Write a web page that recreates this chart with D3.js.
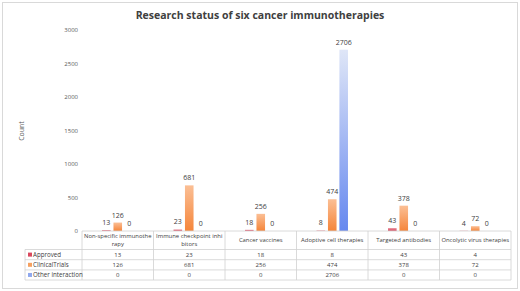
<!DOCTYPE html>
<html><head><meta charset="utf-8">
<script src="https://cdn.jsdelivr.net/npm/d3@7"></script>
<style>body{margin:0;background:#fff}svg{display:block;font-family:"Open Sans",sans-serif}</style>
</head><body><svg id="c" width="520" height="291"></svg>
<script>
const categories = ["Non-specific immunotherapy","Immune checkpoint inhibitors","Cancer vaccines","Adoptive cell therapies","Targeted antibodies","Oncolytic virus therapies"];
const headerLines = [["Non-specific immunothe","rapy"],["Immune checkpoint inhi","bitors"],["Cancer vaccines"],["Adoptive cell therapies"],["Targeted antibodies"],["Oncolytic virus therapies"]];
const seriesNames = ["Approved","ClinicalTrials","Other interaction"];
const approved = [13,23,18,8,43,4];
const clinicalTrials = [126,681,256,474,378,72];
const otherInteraction = [0,0,0,2706,0,0];
const yTicks = [0,500,1000,1500,2000,2500,3000];
const seriesValues = [approved, clinicalTrials, otherInteraction];

const svg = d3.select("#c");
const defs = svg.append("defs");
const grads = [["gA","#e88a98","#d9485e"],["gC","#fbbf95","#f5853a"],["gO","#dfe6f7","#6688ef"]];
grads.forEach(([id,t,b])=>{
  const g = defs.append("linearGradient").attr("id",id).attr("x1",0).attr("x2",0).attr("y1",0).attr("y2",1);
  g.append("stop").attr("offset","0%").attr("stop-color",t);
  g.append("stop").attr("offset","100%").attr("stop-color",b);
});
const legendColors = ["#d9485e","#f5a060","#8fa8ee"];

svg.append("rect").attr("x",2.5).attr("y",2.5).attr("width",515).attr("height",286).attr("fill","#fff").attr("stroke","#d9d9d9");

svg.append("text").attr("x",260).attr("y",19).attr("text-anchor","middle").attr("font-size",10.5).attr("font-weight","bold").attr("fill","#404040").text("Research status of six cancer immunotherapies");

const x0 = d3.scaleBand().domain(categories).range([82,511]);
const x1 = d3.scaleBand().domain(seriesNames).range([0,x0.bandwidth()]).paddingInner(0.25).paddingOuter(1.75);
const y = d3.scaleLinear().domain([0,3000]).range([231,30]);

const yAxis = d3.axisLeft(y).tickValues(yTicks).tickFormat(d3.format("d")).tickSize(0).tickPadding(0);
const ga = svg.append("g").attr("transform","translate(78,0)").call(yAxis);
ga.select(".domain").remove();
ga.selectAll("text").attr("font-size",6).attr("fill","#595959").attr("font-family","Open Sans, sans-serif");

svg.append("text").attr("transform","translate(24,131) rotate(-90)").attr("text-anchor","middle").attr("font-size",7).attr("fill","#595959").text("Count");

const gids = ["gA","gC","gO"];
const groups = svg.append("g").selectAll("g").data(categories).join("g").attr("transform",d=>`translate(${x0(d)},0)`);
groups.each(function(cat,i){
  const g = d3.select(this);
  seriesNames.forEach((s,k)=>{
    const v = seriesValues[k][i];
    g.append("rect").attr("x",x1(s)).attr("width",x1.bandwidth()).attr("y",y(v)).attr("height",Math.max(0,y(0)-y(v))).attr("fill",`url(#${gids[k]})`);
    g.append("text").attr("x",x1(s)+x1.bandwidth()/2).attr("y",y(v)-5).attr("text-anchor","middle").attr("font-size",7).attr("fill","#404040").text(v);
  });
});

// table
const lc = "#d0d0d0";
const tg = svg.append("g").attr("stroke",lc).attr("stroke-width",0.8);
const rowY = [231,249.5,259.7,269.9,280];
tg.append("line").attr("x1",82).attr("x2",511).attr("y1",rowY[0]).attr("y2",rowY[0]);
for(let r=1;r<rowY.length;r++) tg.append("line").attr("x1",25).attr("x2",511).attr("y1",rowY[r]).attr("y2",rowY[r]);
tg.append("line").attr("x1",25).attr("x2",25).attr("y1",rowY[1]).attr("y2",rowY[4]);
categories.forEach(c=>tg.append("line").attr("x1",x0(c)).attr("x2",x0(c)).attr("y1",rowY[0]).attr("y2",rowY[4]));
tg.append("line").attr("x1",511).attr("x2",511).attr("y1",rowY[0]).attr("y2",rowY[4]);

categories.forEach((c,i)=>{
  const lines = headerLines[i];
  const cx = x0(c)+x0.bandwidth()/2;
  lines.forEach((l,j)=>{
    const yy = lines.length===1 ? 242 : 237.5 + j*8;
    svg.append("text").attr("x",cx).attr("y",yy).attr("text-anchor","middle").attr("font-size",5.9).attr("fill","#404040").text(l);
  });
  seriesNames.forEach((s,k)=>{
    svg.append("text").attr("x",cx).attr("y",(rowY[k+1]+rowY[k+2])/2+2.2).attr("text-anchor","middle").attr("font-size",6).attr("fill","#404040").text(seriesValues[k][i]);
  });
});
seriesNames.forEach((s,k)=>{
  const cy = (rowY[k+1]+rowY[k+2])/2;
  svg.append("rect").attr("x",28).attr("y",cy-2).attr("width",4).attr("height",4).attr("fill",legendColors[k]);
  svg.append("text").attr("x",33).attr("y",cy+2.2).attr("font-size",6.2).attr("fill","#404040").text(s);
});
</script></body></html>
